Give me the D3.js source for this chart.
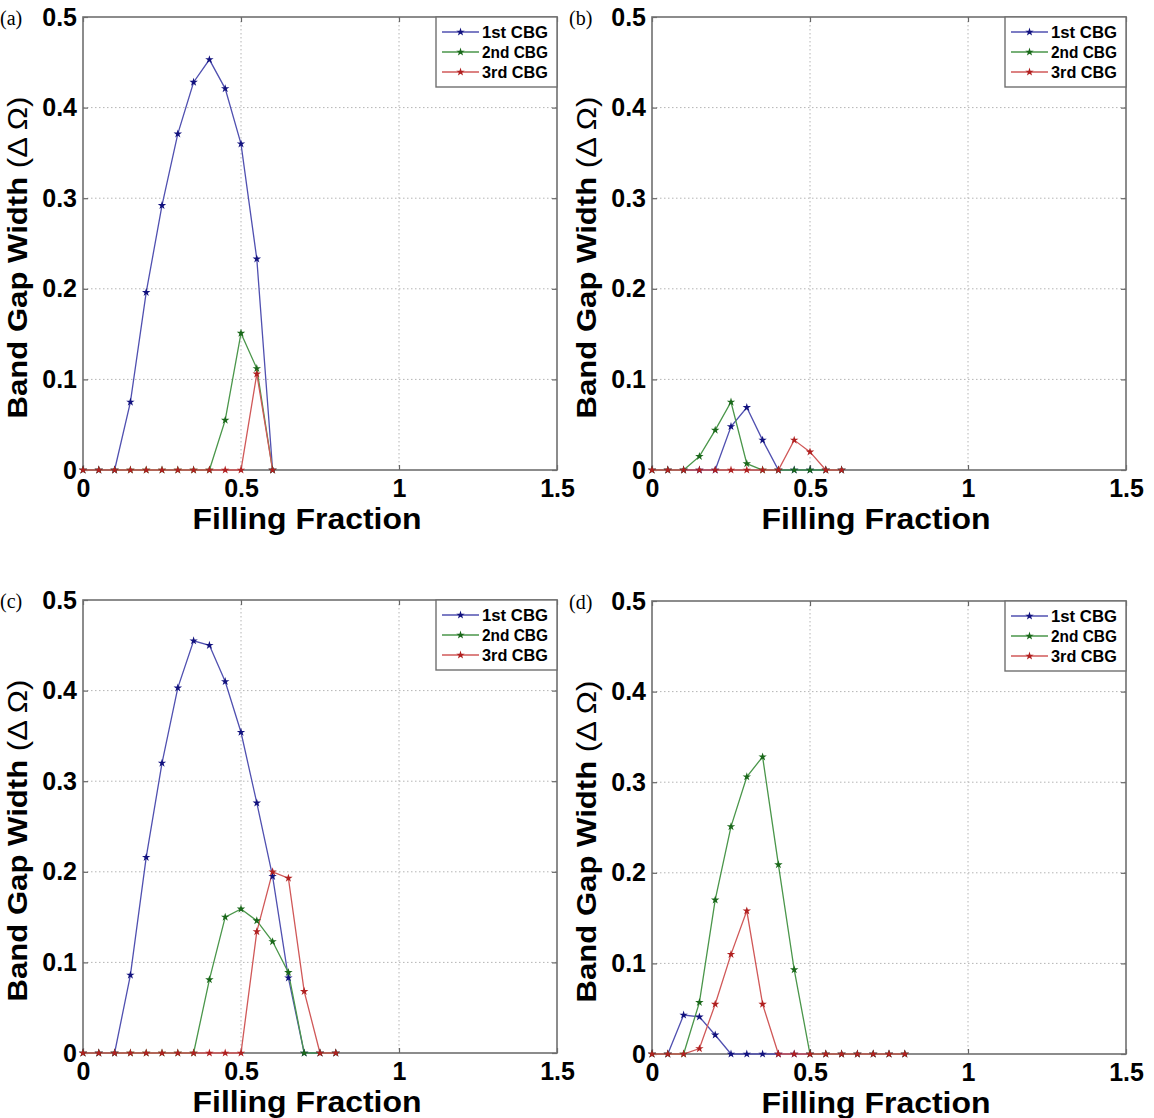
<!DOCTYPE html>
<html>
<head>
<meta charset="utf-8">
<script src="https://cdn.jsdelivr.net/npm/d3@7"></script>
<style>
  body { margin: 0; background: #fff; }
  text { font-family: "Liberation Sans", Arial, sans-serif; }
</style>
</head>
<body>
<div class="canvas"></div>
<script>
// data
const seriesNames = ['1st CBG', '2nd CBG', '3rd CBG'];
const xTicks = [0, 0.5, 1, 1.5];
const yTicks = [0, 0.1, 0.2, 0.3, 0.4, 0.5];
const xTickLabels = ['0', '0.5', '1', '1.5'];
const yTickLabels = ['0', '0.1', '0.2', '0.3', '0.4', '0.5'];

const fillAB = [0, 0.05, 0.1, 0.15, 0.2, 0.25, 0.3, 0.35, 0.4, 0.45, 0.5, 0.55, 0.6];
const fillCD = [0, 0.05, 0.1, 0.15, 0.2, 0.25, 0.3, 0.35, 0.4, 0.45, 0.5, 0.55, 0.6, 0.65, 0.7, 0.75, 0.8];

const a1st = [0, 0, 0, 0.075, 0.196, 0.292, 0.371, 0.428, 0.453, 0.421, 0.360, 0.233, 0];
const a2nd = [0, 0, 0, 0, 0, 0, 0, 0, 0, 0.055, 0.151, 0.112, 0];
const a3rd = [0, 0, 0, 0, 0, 0, 0, 0, 0, 0, 0, 0.106, 0];

const b1st = [0, 0, 0, 0, 0, 0.048, 0.069, 0.033, 0, 0, 0, 0, 0];
const b2nd = [0, 0, 0, 0.015, 0.044, 0.075, 0.007, 0, 0, 0, 0, 0, 0];
const b3rd = [0, 0, 0, 0, 0, 0, 0, 0, 0, 0.033, 0.020, 0, 0];

const c1st = [0, 0, 0, 0.086, 0.216, 0.320, 0.403, 0.455, 0.450, 0.410, 0.354, 0.276, 0.195, 0.083, 0, 0, 0];
const c2nd = [0, 0, 0, 0, 0, 0, 0, 0, 0.081, 0.150, 0.159, 0.146, 0.123, 0.089, 0, 0, 0];
const c3rd = [0, 0, 0, 0, 0, 0, 0, 0, 0, 0, 0, 0.134, 0.200, 0.193, 0.068, 0, 0];

const d1st = [0, 0, 0.043, 0.041, 0.021, 0, 0, 0, 0, 0, 0, 0, 0, 0, 0, 0, 0];
const d2nd = [0, 0, 0, 0.057, 0.170, 0.251, 0.306, 0.328, 0.209, 0.093, 0, 0, 0, 0, 0, 0, 0];
const d3rd = [0, 0, 0, 0.006, 0.055, 0.110, 0.158, 0.055, 0, 0, 0, 0, 0, 0, 0, 0, 0];

const lineColours = ['#5050b0', '#4a964a', '#d05858'];
const markColours = ['#12127e', '#1a681a', '#b02020'];

const dims = { width: 474, height: 453 };

const panels = [
  { tag: '(a)', fill: fillAB, series: [a1st, a2nd, a3rd], left: 83, top: 17 },
  { tag: '(b)', fill: fillAB, series: [b1st, b2nd, b3rd], left: 652, top: 17 },
  { tag: '(c)', fill: fillCD, series: [c1st, c2nd, c3rd], left: 83, top: 600 },
  { tag: '(d)', fill: fillCD, series: [d1st, d2nd, d3rd], left: 652, top: 601 }
];

const svg = d3.select('.canvas')
  .append('svg')
  .attr('width', 1154)
  .attr('height', 1118);

const x = d3.scaleLinear().domain([0, 1.5]).range([0, dims.width]);
const y = d3.scaleLinear().domain([0, 0.5]).range([dims.height, 0]);

const star = d3.symbol().type(d3.symbolStar).size(22);

panels.forEach(p => {
  const graph = svg.append('g')
    .attr('transform', `translate(${p.left}, ${p.top})`);

  // dotted grid
  graph.append('g')
    .selectAll('line')
    .data(xTicks.slice(1, -1))
    .enter().append('line')
      .attr('x1', d => x(d)).attr('x2', d => x(d))
      .attr('y1', 0).attr('y2', dims.height)
      .attr('stroke', '#b4b4b4').attr('stroke-width', 1)
      .attr('stroke-dasharray', '1.5,2.5');
  graph.append('g')
    .selectAll('line')
    .data(yTicks.slice(1, -1))
    .enter().append('line')
      .attr('y1', d => y(d)).attr('y2', d => y(d))
      .attr('x1', 0).attr('x2', dims.width)
      .attr('stroke', '#b4b4b4').attr('stroke-width', 1)
      .attr('stroke-dasharray', '1.5,2.5');

  // axes, ticks inside like matlab
  const xAxis = d3.axisBottom(x).tickValues(xTicks).tickSizeInner(-5).tickSizeOuter(0)
    .tickFormat((d, i) => xTickLabels[i]).tickPadding(11);
  const yAxis = d3.axisLeft(y).tickValues(yTicks).tickSizeInner(-5).tickSizeOuter(0)
    .tickFormat((d, i) => yTickLabels[i]).tickPadding(6);
  const xTop = d3.axisTop(x).tickValues(xTicks).tickSizeInner(-5).tickSizeOuter(0).tickFormat('');
  const yRight = d3.axisRight(y).tickValues(yTicks).tickSizeInner(-5).tickSizeOuter(0).tickFormat('');

  const gx = graph.append('g').attr('transform', `translate(0, ${dims.height})`).call(xAxis);
  const gy = graph.append('g').call(yAxis);
  graph.append('g').call(xTop);
  graph.append('g').attr('transform', `translate(${dims.width}, 0)`).call(yRight);

  graph.selectAll('.domain').attr('stroke', 'none');
  graph.selectAll('.tick line').attr('stroke', '#666').attr('stroke-width', 1.2);
  gx.selectAll('text').attr('font-size', 25).attr('font-weight', 'bold').attr('fill', '#000')
    .attr('dy', '0.62em');
  gy.selectAll('text').attr('font-size', 25).attr('font-weight', 'bold').attr('fill', '#000');

  // box
  graph.append('rect')
    .attr('width', dims.width).attr('height', dims.height)
    .attr('fill', 'none').attr('stroke', '#707070').attr('stroke-width', 1.6);

  // lines and markers
  const line = d3.line()
    .x((d, i) => x(p.fill[i]))
    .y(d => y(d));

  p.series.forEach((vals, k) => {
    graph.append('path')
      .datum(vals)
      .attr('d', line)
      .attr('fill', 'none')
      .attr('stroke', lineColours[k])
      .attr('stroke-width', 1.3);
  });
  p.series.forEach((vals, k) => {
    graph.append('g')
      .selectAll('path')
      .data(vals)
      .enter().append('path')
        .attr('d', star)
        .attr('transform', (d, i) => `translate(${x(p.fill[i])}, ${y(d)})`)
        .attr('fill', markColours[k]);
  });

  // axis titles
  graph.append('text')
    .attr('x', dims.width / 2 - 13)
    .attr('y', dims.height + 59)
    .attr('text-anchor', 'middle')
    .attr('font-size', 29).attr('font-weight', 'bold')
    .attr('textLength', 229).attr('lengthAdjust', 'spacingAndGlyphs')
    .text('Filling Fraction');

  const yl = graph.append('text')
    .attr('transform', `translate(-56, ${dims.height / 2 + 14}) rotate(-90)`)
    .attr('text-anchor', 'middle')
    .attr('font-size', 28).attr('font-weight', 'bold')
    .attr('textLength', 322).attr('lengthAdjust', 'spacingAndGlyphs');
  yl.append('tspan').text('Band Gap Width ');
  yl.append('tspan').attr('font-weight', 'normal').text('(Δ Ω)');

  // panel tag
  svg.append('text')
    .attr('x', p.left - 83)
    .attr('y', p.top + 8)
    .style('font-family', '"Liberation Serif", "Times New Roman", serif')
    .attr('font-size', 20)
    .text(p.tag);

  // legend
  const legend = graph.append('g')
    .attr('transform', `translate(${dims.width - 121}, 0)`);
  legend.append('rect')
    .attr('width', 121).attr('height', 70)
    .attr('fill', '#fff').attr('stroke', '#707070').attr('stroke-width', 1.4);
  seriesNames.forEach((name, k) => {
    const ly = 15 + k * 20;
    legend.append('line')
      .attr('x1', 6).attr('x2', 43).attr('y1', ly).attr('y2', ly)
      .attr('stroke', lineColours[k]).attr('stroke-width', 1.3);
    legend.append('path')
      .attr('d', star)
      .attr('transform', `translate(24.5, ${ly})`)
      .attr('fill', markColours[k]);
    legend.append('text')
      .attr('x', 46).attr('y', ly + 5.5)
      .attr('font-size', 16).attr('font-weight', 'bold')
      .attr('textLength', 66).attr('lengthAdjust', 'spacingAndGlyphs')
      .text(name);
  });
});
</script>
</body>
</html>
